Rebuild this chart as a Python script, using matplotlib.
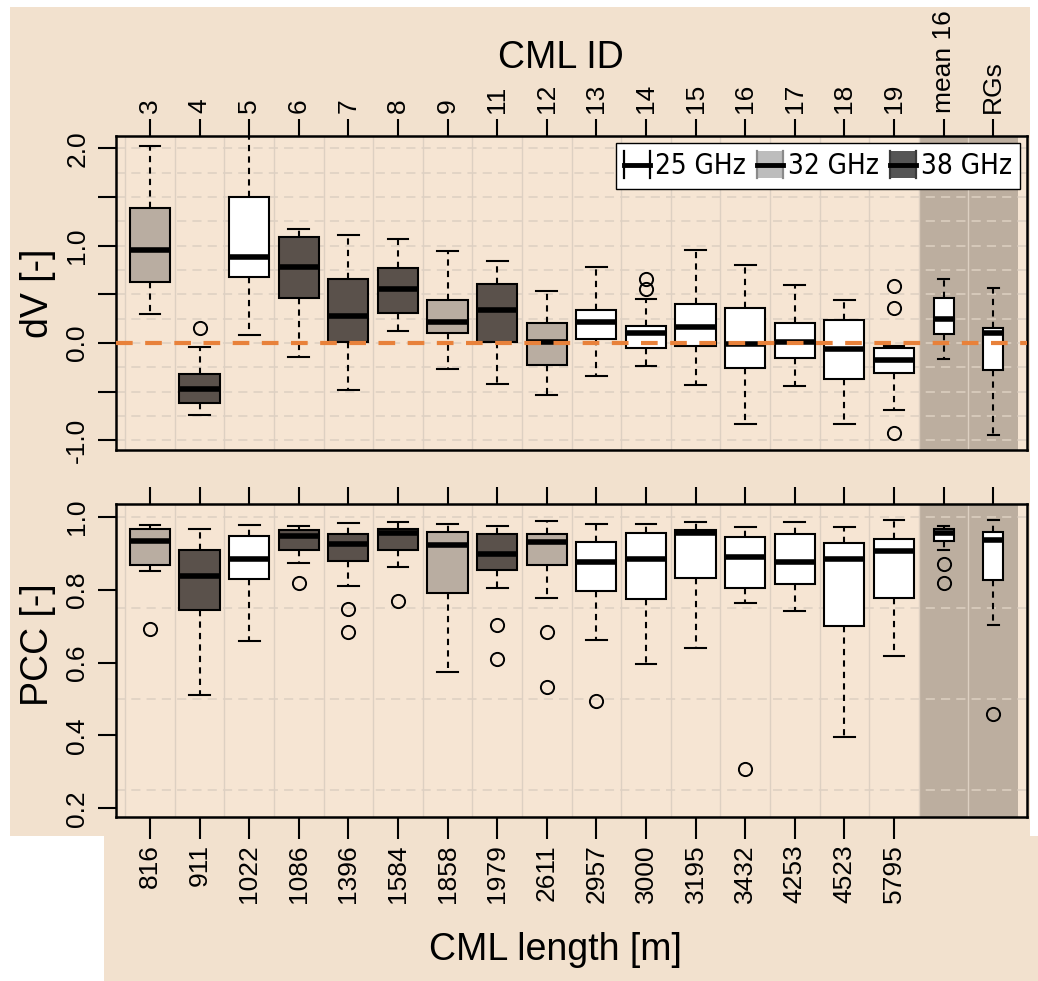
import numpy as np
import matplotlib
matplotlib.use('Agg')
import matplotlib.pyplot as plt
from matplotlib import font_manager
from matplotlib.patches import Rectangle, Patch
from matplotlib.lines import Line2D
from matplotlib.legend_handler import HandlerBase

plt.rcParams['font.family'] = ['Liberation Sans', 'DejaVu Sans']

# ---------------- data ----------------
cml_ids = ['3', '4', '5', '6', '7', '8', '9', '11', '12', '13', '14', '15',
           '16', '17', '18', '19', 'mean 16', 'RGs']
cml_lengths = ['816', '911', '1022', '1086', '1396', '1584', '1858', '1979',
               '2611', '2957', '3000', '3195', '3432', '4253', '4523', '5795']
freq_ghz = [32, 38, 25, 38, 38, 38, 32, 38, 32, 25, 25, 25, 25, 25, 25, 25, 25, 25]

dv_whishi = [2.02, -0.04, 2.25, 1.17, 1.11, 1.07, 0.95, 0.84, 0.53, 0.78, 0.45,
             0.96, 0.80, 0.60, 0.44, -0.03, 0.66, 0.56]
dv_q3 = [1.39, -0.32, 1.50, 1.09, 0.66, 0.77, 0.44, 0.61, 0.21, 0.34, 0.17,
         0.40, 0.36, 0.21, 0.24, -0.05, 0.46, 0.15]
dv_med = [0.96, -0.47, 0.88, 0.78, 0.28, 0.55, 0.22, 0.34, 0.01, 0.22, 0.10,
          0.16, -0.01, 0.01, -0.06, -0.18, 0.25, 0.10]
dv_q1 = [0.63, -0.62, 0.68, 0.46, 0.01, 0.31, 0.10, 0.01, -0.23, 0.04, -0.05,
         -0.03, -0.26, -0.15, -0.37, -0.31, 0.09, -0.28]
dv_whislo = [0.30, -0.74, 0.08, -0.14, -0.48, 0.12, -0.27, -0.42, -0.53, -0.34,
             -0.24, -0.43, -0.83, -0.44, -0.83, -0.69, -0.16, -0.95]
dv_fliers = [[], [0.15], [], [], [], [], [], [], [], [], [0.55, 0.66], [], [],
             [], [], [0.59, 0.36, -0.93], [], []]

pcc_whishi = [0.976, 0.965, 0.977, 0.974, 0.984, 0.985, 0.979, 0.975, 0.988,
              0.981, 0.979, 0.985, 0.972, 0.986, 0.972, 0.990, 0.975, 0.990]
pcc_q3 = [0.965, 0.908, 0.947, 0.963, 0.953, 0.967, 0.957, 0.953, 0.953, 0.931,
          0.955, 0.964, 0.943, 0.953, 0.929, 0.940, 0.965, 0.959]
pcc_med = [0.933, 0.838, 0.883, 0.947, 0.926, 0.954, 0.922, 0.898, 0.930, 0.877,
           0.885, 0.956, 0.889, 0.875, 0.885, 0.905, 0.954, 0.936]
pcc_q1 = [0.867, 0.745, 0.829, 0.910, 0.878, 0.910, 0.792, 0.854, 0.867, 0.796,
          0.775, 0.833, 0.804, 0.816, 0.700, 0.778, 0.933, 0.827]
pcc_whislo = [0.851, 0.511, 0.659, 0.874, 0.811, 0.862, 0.575, 0.805, 0.778,
              0.661, 0.596, 0.639, 0.764, 0.740, 0.397, 0.618, 0.908, 0.702]
pcc_fliers = [[0.692], [], [], [0.818], [0.746, 0.684], [0.768], [],
              [0.702, 0.610], [0.683, 0.533], [0.494], [], [], [0.309], [], [],
              [], [0.870, 0.817], [0.458]]

# ---------------- style ----------------
W, H = 1038, 981
FIG_BEIGE = '#f2e1ce'
AX_BEIGE = '#f6e5d3'
SHADE = '#bcae9f'
GRID = '#ddd0c2'
ORANGE = '#e8813a'
box_colors = {25: 'white', 32: '#b9ada1', 38: '#5a514b'}

# condensed font for the legend if one is available
_entries = font_manager.fontManager.ttflist
_names = {f.name for f in _entries}
if 'Liberation Sans Narrow' in _names:
    leg_prop = dict(family='Liberation Sans Narrow', size=21)
    leg_cs = 0.9
elif any(f.name == 'DejaVu Sans' and 'condensed' in str(f.stretch)
         for f in _entries):
    leg_prop = dict(family='DejaVu Sans', stretch='condensed', size=20)
    leg_cs = 0.4
else:
    leg_prop = dict(family='Liberation Sans', size=18)
    leg_cs = 0.5

fig = plt.figure(figsize=(W / 100, H / 100), dpi=100, facecolor='white')


def px_rect(x0, y0, x1, y1, **kw):
    r = Rectangle((x0 / W, 1 - y1 / H), (x1 - x0) / W, (y1 - y0) / H,
                  transform=fig.transFigure, zorder=-10, **kw)
    fig.add_artist(r)


px_rect(10, 7, 1030, 836, facecolor=FIG_BEIGE, edgecolor='none')
px_rect(104, 836, 1038, 981, facecolor=FIG_BEIGE, edgecolor='none')

ax1 = fig.add_axes([115.7 / W, 1 - 450 / H, 911 / W, 314.3 / H])
ax2 = fig.add_axes([115.7 / W, 1 - 816.7 / H, 911 / W, 312.4 / H])

positions = np.arange(1, len(cml_ids) + 1)
n_cml = len(cml_lengths)
widths = [0.81] * n_cml + [0.40] * (len(cml_ids) - n_cml)
capw = [0.42] * n_cml + [0.22] * (len(cml_ids) - n_cml)


def stats(med, q1, q3, lo, hi, fl):
    return [dict(med=m, q1=a, q3=b, whislo=c, whishi=d, fliers=f)
            for m, a, b, c, d, f in zip(med, q1, q3, lo, hi, fl)]


def draw(ax, st, ylim, grid_vals):
    ax.set_facecolor(AX_BEIGE)
    ax.set_xlim(0.31, 18.675)
    ax.set_ylim(*ylim)
    ax.axvspan(16.5, 18.5, color=SHADE, zorder=0.3, lw=0)
    for xv in np.arange(0.5, 18, 1.0):
        ax.axvline(xv, color=GRID, lw=1.0, zorder=0.5)
    for yv in grid_vals:
        ax.axhline(yv, color=GRID, lw=1.1, ls=(0, (6, 4)), zorder=0.5)
    bp = ax.bxp(st, positions=positions, widths=widths, capwidths=capw,
                patch_artist=True, showfliers=True,
                boxprops=dict(edgecolor='black', linewidth=1.5),
                whiskerprops=dict(color='black', linewidth=1.5,
                                  linestyle=(0, (3, 2.5))),
                capprops=dict(color='black', linewidth=1.5),
                medianprops=dict(color='black', linewidth=4.0,
                                 solid_capstyle='butt'),
                flierprops=dict(marker='o', markerfacecolor='none',
                                markeredgecolor='black', markersize=9.5,
                                markeredgewidth=1.4))
    for patch, f in zip(bp['boxes'], freq_ghz):
        patch.set_facecolor(box_colors[f])
    for s in ax.spines.values():
        s.set_linewidth(1.8)
        s.set_color('black')
    ax.tick_params(axis='y', direction='out', length=13, width=1.5,
                   labelsize=19, pad=6, labelrotation=90)


draw(ax1, stats(dv_med, dv_q1, dv_q3, dv_whislo, dv_whishi, dv_fliers),
     (-1.10, 2.13), np.arange(-1.0, 2.01, 0.25))
draw(ax2, stats(pcc_med, pcc_q1, pcc_q3, pcc_whislo, pcc_whishi, pcc_fliers),
     (0.177, 1.034), np.arange(0.25, 1.01, 0.25))

ax1.axhline(0, color=ORANGE, lw=3.0, ls=(0, (4, 3)), zorder=4)

# top panel axes
ax1.set_yticks([-1.0, -0.5, 0.0, 0.5, 1.0, 1.5, 2.0])
ax1.set_yticklabels(['-1.0', '', '0.0', '', '1.0', '', '2.0'])
for lab in ax1.get_yticklabels():
    lab.set_va('center')
ax1.xaxis.tick_top()
ax1.set_xticks(positions)
ax1.set_xticklabels(cml_ids, rotation=90)
ax1.tick_params(axis='x', direction='out', length=12, width=1.5,
                labelsize=19, pad=4)

# bottom panel axes
ax2.set_yticks([0.2, 0.4, 0.6, 0.8, 1.0])
ax2.set_yticklabels(['0.2', '0.4', '0.6', '0.8', '1.0'])
for lab in ax2.get_yticklabels():
    lab.set_va('center')
ax2.set_xticks(positions)
ax2.set_xticklabels(cml_lengths + [''] * (len(cml_ids) - n_cml), rotation=90)
ax2.tick_params(axis='x', direction='out', top=True, bottom=True, length=12,
                width=1.5, labelsize=19, pad=8)
for i, t in enumerate(ax2.xaxis.get_major_ticks()):
    t.tick1line.set_markersize(16)
    if i >= n_cml:
        t.tick1line.set_visible(False)


# legend
class BoxHandler(HandlerBase):
    def __init__(self, fc, ec):
        super().__init__()
        self.fc, self.ec = fc, ec

    def create_artists(self, legend, orig_handle, xdescent, ydescent, width,
                       height, fontsize, trans):
        x0, y0 = -xdescent, -ydescent
        r = Rectangle((x0, y0), width, height, facecolor=self.fc,
                      edgecolor='none', transform=trans)
        l1 = Line2D([x0, x0], [y0, y0 + height], color=self.ec, lw=1.6,
                    transform=trans)
        l2 = Line2D([x0 + width] * 2, [y0, y0 + height], color=self.ec,
                    lw=1.6, transform=trans)
        m = Line2D([x0, x0 + width], [y0 + height / 2] * 2, color='black',
                   lw=3.5, transform=trans)
        return [r, l1, l2, m]


h25, h32, h38 = Patch(), Patch(), Patch()
fs = leg_prop['size']
leg = ax1.legend([h25, h32, h38], ['25 GHz', '32 GHz', '38 GHz'],
                 handler_map={h25: BoxHandler('white', 'black'),
                              h32: BoxHandler('#bdbdbd', '#8a8a8a'),
                              h38: BoxHandler('#555555', '#3a3a3a')},
                 ncol=3, loc='upper right', bbox_to_anchor=(0.9926, 0.9768),
                 borderaxespad=0, frameon=True, fancybox=False,
                 edgecolor='black', facecolor='white', framealpha=1,
                 prop=leg_prop,
                 handlelength=18.5 / fs, handleheight=22.5 / fs,
                 handletextpad=0.18, columnspacing=leg_cs, borderpad=0.3)
leg.get_frame().set_linewidth(1.0)
leg.set_zorder(10)

# titles
fig.text(561 / W, 1 - 58 / H, 'CML ID', ha='center', va='center', fontsize=27)
fig.text(555 / W, 1 - 950 / H, 'CML length [m]', ha='center', va='center',
         fontsize=27)
fig.text(38 / W, 1 - 293 / H, 'dV [-]', ha='center', va='center', fontsize=27,
         rotation=90)
fig.text(38 / W, 1 - 645 / H, 'PCC [-]', ha='center', va='center', fontsize=27,
         rotation=90)

fig.savefig('out.png', dpi=100, facecolor='white')
